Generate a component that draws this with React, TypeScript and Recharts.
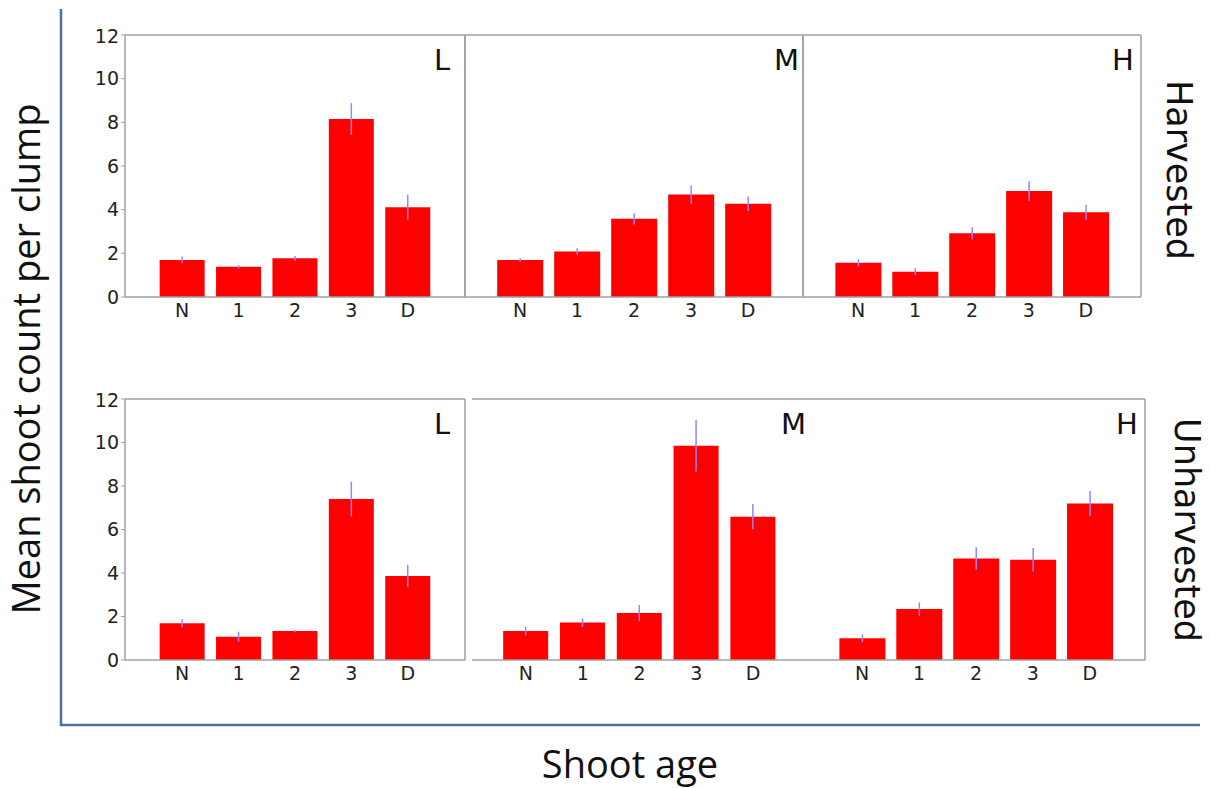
import React from 'react';
import { BarChart, Bar, XAxis, YAxis, ErrorBar } from 'recharts';

const ages = ['N', '1', '2', '3', 'D'];
const yTicks = [0, 2, 4, 6, 8, 10, 12];

const harvestedL = [1.7, 1.39, 1.77, 8.15, 4.11];
const harvestedLErr = [0.15, 0.08, 0.11, 0.73, 0.57];
const harvestedM = [1.7, 2.08, 3.58, 4.69, 4.27];
const harvestedMErr = [0.07, 0.15, 0.26, 0.42, 0.33];
const harvestedH = [1.57, 1.16, 2.92, 4.85, 3.88];
const harvestedHErr = [0.16, 0.16, 0.27, 0.44, 0.34];

const unharvestedL = [1.69, 1.07, 1.33, 7.4, 3.86];
const unharvestedLErr = [0.18, 0.23, 0.05, 0.8, 0.51];
const unharvestedM = [1.33, 1.72, 2.16, 9.85, 6.59];
const unharvestedMErr = [0.2, 0.2, 0.37, 1.18, 0.58];
const unharvestedH = [1.0, 2.34, 4.67, 4.61, 7.2];
const unharvestedHErr = [0.18, 0.31, 0.51, 0.54, 0.57];

const build = (vals: number[], errs: number[]) =>
  ages.map((a, i) => ({ age: a, value: vals[i], err: errs[i] }));

type Panel = {
  letter: string;
  data: { age: string; value: number; err: number }[];
  left: number;
  top: number;
  width: number;
  height: number;
  pad: number;
  showY: boolean;
  sides: { left: boolean; right: boolean };
};

const panels: Panel[] = [
  { letter: 'L', data: build(harvestedL, harvestedLErr), left: 125, top: 35, width: 340, height: 262, pad: 29, showY: true, sides: { left: true, right: true } },
  { letter: 'M', data: build(harvestedM, harvestedMErr), left: 465, top: 35, width: 338, height: 262, pad: 26.5, showY: false, sides: { left: true, right: true } },
  { letter: 'H', data: build(harvestedH, harvestedHErr), left: 803, top: 35, width: 338, height: 262, pad: 26.7, showY: false, sides: { left: true, right: true } },
  { letter: 'L', data: build(unharvestedL, unharvestedLErr), left: 125, top: 399, width: 340, height: 261, pad: 29, showY: true, sides: { left: true, right: true } },
  { letter: 'M', data: build(unharvestedM, unharvestedMErr), left: 472, top: 399, width: 335, height: 261, pad: 25.5, showY: false, sides: { left: false, right: false } },
  { letter: 'H', data: build(unharvestedH, unharvestedHErr), left: 807, top: 399, width: 338, height: 261, pad: 26.7, showY: false, sides: { left: false, right: true } },
];

const FRAME = '#a0a0a0';
const TICK_FONT = { fontFamily: 'DejaVu Sans', fontSize: 19, fill: '#222' };
const MT = 10;
const XH = 40;

function PanelChart({ p }: { p: Panel }) {
  const yw = p.showY ? 50 : 1;
  return (
    <div style={{ position: 'absolute', left: p.left - yw, top: p.top - MT }}>
      <BarChart
        width={p.width + yw + 1}
        height={p.height + MT + XH}
        data={p.data}
        margin={{ top: MT - 1, right: 0, bottom: 0, left: 0 }}
        barCategoryGap="10%"
      >
        <XAxis
          dataKey="age"
          xAxisId="bottom"
          orientation="bottom"
          height={XH}
          padding={{ left: p.pad, right: p.pad }}
          axisLine={{ stroke: FRAME, strokeWidth: 1.5 }}
          tickLine={false}
          tickSize={5}
          tickMargin={2}
          tick={TICK_FONT}
          interval={0}
        />
        <XAxis
          dataKey="age"
          xAxisId="top"
          orientation="top"
          height={1}
          padding={{ left: p.pad, right: p.pad }}
          axisLine={{ stroke: FRAME, strokeWidth: 1.5 }}
          tickLine={false}
          tick={false}
        />
        <YAxis
          yAxisId="left"
          orientation="left"
          domain={[0, 12]}
          ticks={yTicks}
          width={yw}
          axisLine={p.sides.left ? { stroke: FRAME, strokeWidth: 1.5 } : false}
          tick={p.showY ? TICK_FONT : false}
          tickLine={p.showY ? { stroke: FRAME } : false}
          tickSize={4}
          tickMargin={2}
        />
        <YAxis
          yAxisId="right"
          orientation="right"
          domain={[0, 12]}
          width={1}
          axisLine={p.sides.right ? { stroke: FRAME, strokeWidth: 1.5 } : false}
          tick={false}
          tickLine={false}
        />
        <Bar dataKey="value" xAxisId="bottom" yAxisId="left" fill="#ff0000" isAnimationActive={false}>
          <ErrorBar dataKey="err" width={0} stroke="#8a8aff" strokeWidth={1.5} direction="y" />
        </Bar>
      </BarChart>
    </div>
  );
}

export default function App() {
  return (
    <div style={{ position: 'absolute', left: 0, top: 0, width: 1211, height: 788, background: '#fff' }}>
      {panels.map((p, i) => (
        <PanelChart key={i} p={p} />
      ))}
      <svg
        width={1211}
        height={788}
        style={{ position: 'absolute', left: 0, top: 0, pointerEvents: 'none' }}
      >
        <line x1={61} y1={9} x2={61} y2={726} stroke="#4f6fa0" strokeWidth={2.5} />
        <line x1={60} y1={725} x2={1200} y2={725} stroke="#4f6fa0" strokeWidth={2.5} />
        {panels.map((p, i) => (
          <text
            key={i}
            x={p.left + 309}
            y={p.top + 35}
            fontFamily="DejaVu Sans"
            fontSize={29}
            fill="#111"
          >
            {p.letter}
          </text>
        ))}
        <text
          x={0}
          y={0}
          transform="translate(1167,170) rotate(90)"
          textAnchor="middle"
          fontFamily="DejaVu Sans"
          fontSize={35}
          fill="#111"
        >
          Harvested
        </text>
        <text
          x={0}
          y={0}
          transform="translate(1175,530) rotate(90)"
          textAnchor="middle"
          fontFamily="DejaVu Sans"
          fontSize={35}
          fill="#111"
        >
          Unharvested
        </text>
        <text
          x={0}
          y={0}
          transform="translate(40,359) rotate(-90)"
          textAnchor="middle"
          fontFamily="Open Sans"
          fontSize={38}
          fill="#111"
        >
          Mean shoot count per clump
        </text>
        <text x={630} y={778} textAnchor="middle" fontFamily="Open Sans" fontSize={38} fill="#111">
          Shoot age
        </text>
      </svg>
    </div>
  );
}
